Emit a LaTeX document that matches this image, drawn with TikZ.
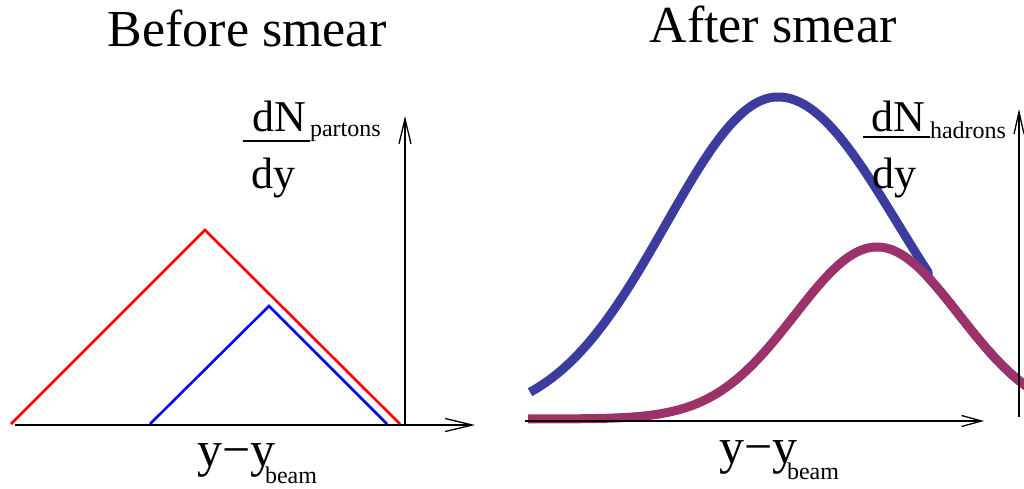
\documentclass[tikz,border=0pt]{standalone}
\usepackage{fontspec}
\setmainfont{Liberation Serif}
\usetikzlibrary{arrows.meta}
\definecolor{curveblue}{RGB}{60,60,158}
\definecolor{curvepurple}{RGB}{155,50,105}
\tikzset{
  lbl/.style={inner sep=0pt, outer sep=0pt, anchor=base west},
  ttl/.style={inner sep=0pt, outer sep=0pt, anchor=base, font=\fontsize{52}{60}\selectfont},
  big/.style={font=\fontsize{44}{50}\selectfont},
  sub/.style={font=\fontsize{24}{28}\selectfont},
  axis/.style={line width=1.3pt, black},
  tri/.style={line width=2.6pt, line join=miter},
  smear/.style={line width=9pt, line cap=butt, line join=round}
}
\begin{document}
\begin{tikzpicture}[x=1pt, y=-1pt]
\useasboundingbox (0,0) rectangle (1024,489);
% titles
\node[ttl] (t1) at (247,47) {Before smear};
\node[ttl] (t2) at (773,43) {After smear};
% left panel
\draw[tri, red] (11,424) -- (205,230) -- (400,424);
\draw[tri, blue] (150,424) -- (269,306) -- (387,424);
\coordinate (lx0) at (15,425);
\coordinate (lx1) at (475,425);
\coordinate (ly0) at (405,425);
\coordinate (ly1) at (405,116);
\draw[axis, -{Straight Barb[length=27pt, width=13pt, line width=1.3pt]}] (lx0) -- (lx1);
\draw[axis, -{Straight Barb[length=25pt, width=12pt, line width=1.3pt]}] (ly0) -- (ly1);
\node[lbl, big] (ldn) at (252,132) {dN};
\node[lbl, sub] (lpart) at (310,137) {partons};
\draw[line width=2.5pt] (243,141) -- (310,141);
\node[lbl, big] (ldy) at (251,188) {dy};
\node[lbl, font=\fontsize{50}{56}\selectfont] (lyy) at (197,466) {y−y};
\node[lbl, sub] (lbeam) at (265,483) {beam};
% right panel
\draw[smear, curveblue]
  plot[domain=5.3:7.78, samples=80]
  ({\x*100}, {420-323*exp(-(\x-7.78)*(\x-7.78)/(2*1.12*1.12))})
  -- plot[domain=7.78:9.28, samples=60]
  ({\x*100}, {420-323*exp(-(\x-7.78)*(\x-7.78)/(2*1.2*1.2))})
  -- plot[domain=9.28:10.3, samples=40]
  ({\x*100}, {419-172*exp(-(\x-8.77)*(\x-8.77)/(2*0.82*0.82))});
\draw[smear, curvepurple] plot[domain=5.28:10.3, samples=120]
  ({\x*100}, {419-172*exp(-(\x-8.77)*(\x-8.77)/(2*0.82*0.82))});
\coordinate (rx0) at (525,421);
\coordinate (rx1) at (984,421);
\coordinate (ry0) at (1019,417);
\coordinate (ry1) at (1019,109);
\draw[axis, -{Straight Barb[length=20pt, width=11pt, line width=1.3pt]}] (rx0) -- (rx1);
\draw[axis, -{Straight Barb[length=22pt, width=10pt, line width=1.3pt]}] (ry0) -- (ry1);
\node[lbl, big] (rdn) at (871,132) {dN};
\node[lbl, sub] (rhad) at (930,139) {hadrons};
\draw[line width=2.5pt] (863,137) -- (930,137);
\node[lbl, big] (rdy) at (872,188) {dy};
\node[lbl, font=\fontsize{50}{56}\selectfont] (ryy) at (719,463) {y−y};
\node[lbl, sub] (rbeam) at (787,479) {beam};
\end{tikzpicture}
\end{document}
